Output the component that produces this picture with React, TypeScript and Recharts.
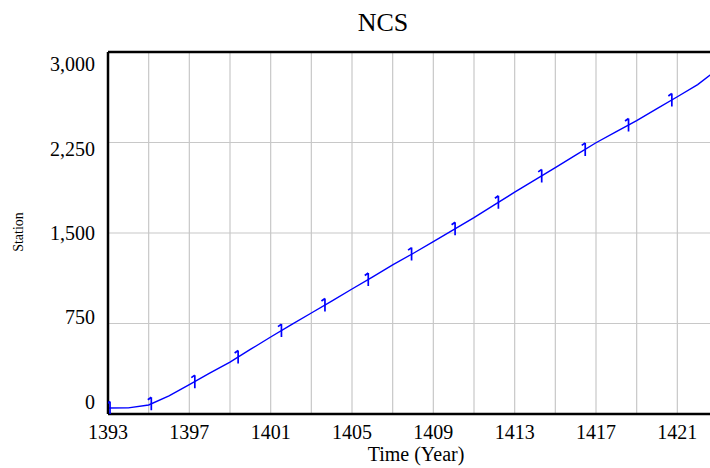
import React from "react";
import { LineChart, Line, XAxis, YAxis, CartesianGrid, ReferenceLine } from "recharts";

const years = [1393, 1394, 1395, 1396, 1397, 1398, 1399, 1400, 1401, 1402, 1403, 1404, 1405, 1406, 1407, 1408, 1409, 1410, 1411, 1412, 1413, 1414, 1415, 1416, 1417, 1418, 1419, 1420, 1421, 1422, 1423];
const ncsValues = [50, 51, 75, 150, 243, 338, 430, 535, 638, 738, 837, 935, 1036, 1135, 1235, 1330, 1428, 1528, 1627, 1733, 1838, 1940, 2041, 2145, 2248, 2340, 2431, 2530, 2629, 2730, 2860];

const markerYears = [1393.1, 1395.13, 1397.27, 1399.4, 1401.53, 1403.67, 1405.8, 1407.93, 1410.07, 1412.2, 1414.33, 1416.47, 1418.6, 1420.73];
const markerValues = [50, 85, 268, 472, 691, 903, 1115, 1325, 1535, 1755, 1973, 2193, 2395, 2602];

const xTicks = [1393, 1397, 1401, 1405, 1409, 1413, 1417, 1421];
const xGrid = [1395, 1397, 1399, 1401, 1403, 1405, 1407, 1409, 1411, 1413, 1415, 1417, 1419, 1421, 1423];
const yTicks = [0, 750, 1500, 2250, 3000];
const yGrid = [750, 1500, 2250];

const lineData = years.map((y, i) => ({ year: y, ncs: ncsValues[i] }));
const markerData = markerYears.map((y, i) => ({ year: y, ncs: markerValues[i] }));

const FONT = "'Liberation Serif', 'Times New Roman', serif";
const PLOT_TOP = 52;
const PLOT_BOTTOM = 414;
const CENTER = (PLOT_TOP + PLOT_BOTTOM) / 2;

const fmt = (v: number) => v.toLocaleString("en-US");

const YTick = (props: any) => {
  const { y, payload } = props;
  const ly = CENTER + (y - CENTER) * 0.932;
  return (
    <text x={95} y={ly} textAnchor="end" dominantBaseline="central" fontFamily={FONT} fontSize={20} fill="#000">
      {fmt(payload.value)}
    </text>
  );
};

const XTick = (props: any) => {
  const { x, payload } = props;
  return (
    <text x={x} y={439} textAnchor="middle" fontFamily={FONT} fontSize={20} fill="#000">
      {payload.value}
    </text>
  );
};

const Marker = (props: any) => {
  const { cx, cy, index } = props;
  if (cx == null || cy == null) return null;
  return (
    <path
      key={`m-${index}`}
      d={`M${cx},${cy - 6.5} L${cx},${cy + 6.5} M${cx - 3.5},${cy - 4} L${cx},${cy - 6.5}`}
      stroke="#0000ff"
      strokeWidth={1.7}
      fill="none"
    />
  );
};

export default function App() {
  return (
    <div style={{ position: "fixed", left: 0, top: 0, width: 710, height: 468, overflow: "hidden", background: "#fff" }}>
      <LineChart
        width={760}
        height={468}
        margin={{ top: PLOT_TOP, right: 42, bottom: 0, left: 0 }}
      >
        <CartesianGrid
          stroke="#c8c8c8"
          strokeWidth={1.2}
          horizontalValues={yGrid}
          verticalValues={xGrid}
        />
        <XAxis
          dataKey="year"
          type="number"
          domain={[1393, 1423]}
          ticks={xTicks}
          tick={<XTick />}
          tickLine={false}
          axisLine={{ stroke: "#000", strokeWidth: 2.5 }}
          height={54}
          allowDataOverflow
        />
        <YAxis
          type="number"
          domain={[0, 3000]}
          ticks={yTicks}
          tick={<YTick />}
          tickLine={false}
          axisLine={{ stroke: "#000", strokeWidth: 2.5 }}
          width={108}
          allowDataOverflow
        />
        <ReferenceLine y={3000} stroke="#000" strokeWidth={2.5} />
        <Line
          data={lineData}
          dataKey="ncs"
          type="linear"
          stroke="#0000ff"
          strokeWidth={1.4}
          dot={false}
          isAnimationActive={false}
        />
        <Line
          data={markerData}
          dataKey="ncs"
          stroke="none"
          dot={<Marker />}
          activeDot={false}
          isAnimationActive={false}
        />
      </LineChart>
      <svg width={710} height={468} style={{ position: "absolute", left: 0, top: 0, pointerEvents: "none" }}>
        <text x={383} y={31} textAnchor="middle" fontFamily={FONT} fontSize={26} fill="#000">NCS</text>
        <text x={416} y={461} textAnchor="middle" fontFamily={FONT} fontSize={20} fill="#000">Time (Year)</text>
        <text x={22.5} y={232} textAnchor="middle" fontFamily={FONT} fontSize={14} fill="#000" transform="rotate(-90 22.5 232)">Station</text>
      </svg>
    </div>
  );
}
